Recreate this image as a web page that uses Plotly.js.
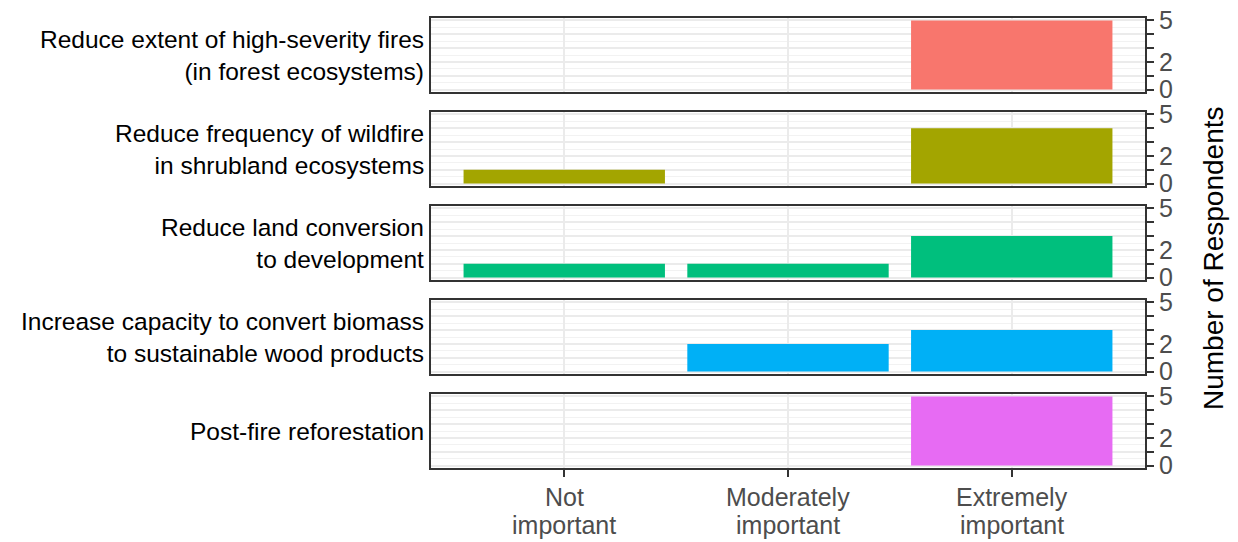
<!DOCTYPE html>
<html>
<head>
<meta charset="utf-8">
<script src="https://cdn.plot.ly/plotly-3.0.1.min.js"></script>
<style>html,body{margin:0;padding:0;background:#fff;}#chart{width:1238px;height:542px;}</style>
</head>
<body>
<div id="chart"></div>
<script>
// Data
const categories = ["Not important", "Moderately important", "Extremely important"];
const categoryLine1 = ["Not", "Moderately", "Extremely"];
const categoryLine2 = ["important", "important", "important"];
const facets = [
  "Reduce extent of high-severity fires<br>(in forest ecosystems)",
  "Reduce frequency of wildfire<br>in shrubland ecosystems",
  "Reduce land conversion<br>to development",
  "Increase capacity to convert biomass<br>to sustainable wood products",
  "Post-fire reforestation"
];
const highSeverity = [0, 0, 5];
const shrubland = [1, 0, 4];
const landConversion = [1, 1, 3];
const biomass = [0, 2, 3];
const reforestation = [0, 0, 5];
const facetColors = ["#F8766D", "#A3A500", "#00BF7D", "#00B0F6", "#E76BF3"];
const yTickVals = [0, 1, 2, 3, 4, 5];
const yTickText = ["0", "", "2", "", "", "5"];

const seriesList = [highSeverity, shrubland, landConversion, biomass, reforestation];

const W = 1238, H = 542;
const mL = 430, mR = 92, mT = 17, mB = 73;
const plotH = H - mT - mB;
const panelH = 76, step = 94;

const traces = [];
const layout = {
  width: W, height: H,
  margin: {l: mL, r: mR, t: mT, b: mB},
  paper_bgcolor: "#ffffff",
  plot_bgcolor: "#ffffff",
  showlegend: false,
  bargap: 0.1,
  font: {family: "Liberation Sans, Arial, sans-serif", size: 24, color: "#000"},
  annotations: [],
  shapes: []
};

seriesList.forEach((vals, i) => {
  const yName = i === 0 ? "y" : "y" + (i + 1);
  const yKey = i === 0 ? "yaxis" : "yaxis" + (i + 1);
  traces.push({
    type: "bar",
    x: categories,
    y: vals,
    xaxis: "x",
    yaxis: yName,
    marker: {color: facetColors[i], line: {width: 0}},
    hoverinfo: "skip"
  });
  const top = 1 - (i * step) / plotH;
  const bot = 1 - (i * step + panelH) / plotH;
  layout[yKey] = {
    domain: [bot, top],
    anchor: "x",
    side: "right",
    range: [-0.25, 5.25],
    tickmode: "array",
    tickvals: yTickVals,
    ticktext: yTickText,
    ticks: "outside",
    ticklen: 7,
    tickwidth: 2,
    tickcolor: "#333333",
    tickfont: {size: 25, color: "#4d4d4d"},
    showgrid: true,
    gridcolor: "#ebebeb",
    gridwidth: 2,
    minor: {tickmode: "array", tickvals: [0.5, 1.5, 2.5, 3.5, 4.5], showgrid: true, gridcolor: "#f2f2f2", gridwidth: 1, ticks: ""},
    zeroline: false,
    showline: false,
    fixedrange: true
  };
  layout.annotations.push({
    xref: "paper", yref: yName + " domain",
    x: 0, y: 0.5, xanchor: "right", yanchor: "middle",
    xshift: -4,
    text: facets[i], showarrow: false, align: "right",
    font: {size: 24.5, color: "#000"}
  });
  layout.shapes.push({
    type: "rect", xref: "paper", yref: yName + " domain",
    x0: 0, x1: 1, y0: 0, y1: 1,
    line: {color: "#333333", width: 2}, fillcolor: "rgba(0,0,0,0)", layer: "above"
  });
});

layout.xaxis = {
  domain: [0, 1],
  anchor: "y5",
  type: "category",
  categoryorder: "array",
  categoryarray: categories,
  range: [-0.6, 2.6],
  ticks: "outside",
  ticklen: 7,
  tickwidth: 2,
  tickcolor: "#333333",
  showticklabels: false,
  showgrid: true,
  gridcolor: "#ebebeb",
  gridwidth: 2,
  zeroline: false,
  showline: false,
  fixedrange: true
};

// Category labels (two lines each, tight ggplot-like line spacing)
categories.forEach((c, k) => {
  layout.annotations.push({
    xref: "x", yref: "paper", x: c, y: 0,
    xanchor: "center", yanchor: "middle", yshift: -28,
    text: categoryLine1[k], showarrow: false,
    font: {size: 25, color: "#4d4d4d"}
  });
  layout.annotations.push({
    xref: "x", yref: "paper", x: c, y: 0,
    xanchor: "center", yanchor: "middle", yshift: -56,
    text: categoryLine2[k], showarrow: false,
    font: {size: 25, color: "#4d4d4d"}
  });
});

layout.annotations.push({
  xref: "paper", yref: "paper",
  x: 1, y: 0.5, xanchor: "center", yanchor: "middle",
  xshift: 67,
  yshift: -15,
  textangle: -90,
  text: "Number of Respondents", showarrow: false,
  font: {size: 28, color: "#000"}
});

Plotly.newPlot("chart", traces, layout, {staticPlot: true, displayModeBar: false});
</script>
</body>
</html>
